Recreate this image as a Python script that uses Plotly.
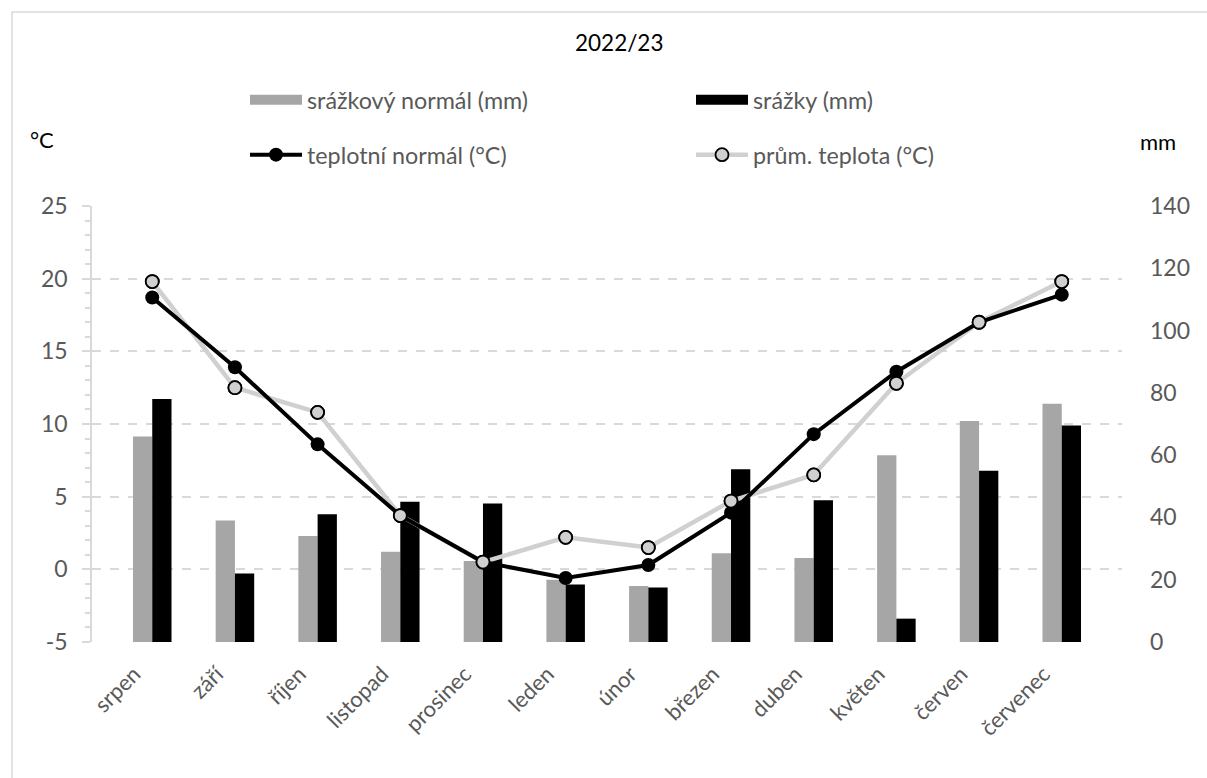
import plotly.graph_objects as go

months = ["srpen", "září", "říjen", "listopad", "prosinec", "leden", "únor",
          "březen", "duben", "květen", "červen", "červenec"]
precip_normal_mm = [66, 39, 34, 29, 26, 20, 18, 28.5, 27, 60, 71, 76.5]
precip_mm = [78, 22, 41, 45, 44.5, 18.5, 17.5, 55.5, 45.5, 7.5, 55, 69.5]
temp_normal_c = [18.7, 13.9, 8.6, 3.7, 0.5, -0.6, 0.3, 3.9, 9.3, 13.6, 17.0, 18.9]
temp_avg_c = [19.8, 12.5, 10.8, 3.7, 0.5, 2.2, 1.5, 4.7, 6.5, 12.8, 17.0, 19.8]

left_ticks = [-5, 0, 5, 10, 15, 20, 25]
left_ticktext = ["-5", "0", "5", "10", "15", "20", "25"]
right_ticks = [0, 20, 40, 60, 80, 100, 120, 140]
right_ticktext = ["0", "20", "40", "60", "80", "100", "120", "140"]

title_text = "2022/23"
left_unit = "°C"
right_unit = "mm"
names = ["srážkový normál (mm)", "srážky (mm)", "teplotní normál (°C)", "prům. teplota (°C)"]

FONT = "Lato, 'Liberation Sans', sans-serif"
GRAY_TXT = "#595959"
GRID = "#d9d9d9"

fig = go.Figure()

# bars on main (right) axis
fig.add_trace(go.Bar(x=months, y=precip_normal_mm, name=names[0], marker_color="#a6a6a6",
                     marker_line_width=0, yaxis="y", showlegend=False))
fig.add_trace(go.Bar(x=months, y=precip_mm, name=names[1], marker_color="#000000",
                     marker_line_width=0, yaxis="y", showlegend=False))

# legend-only entries for the bars (wide rectangles)
fig.add_trace(go.Scatter(x=[None], y=[None], mode="lines", name=names[0],
                         line=dict(color="#a6a6a6", width=14), legend="legend"))
fig.add_trace(go.Scatter(x=[None], y=[None], mode="lines", name=names[1],
                         line=dict(color="#000000", width=14), legend="legend"))

# lines on the left (temperature) axis
fig.add_trace(go.Scatter(x=months, y=temp_avg_c, name=names[3], mode="lines+markers",
                         yaxis="y2", legend="legend2", legendrank=2000,
                         line=dict(color="#d0d0d0", width=4.5),
                         marker=dict(size=13, color="#d0d0d0", line=dict(color="#000000", width=1.8))))
fig.add_trace(go.Scatter(x=months, y=temp_normal_c, name=names[2], mode="lines+markers",
                         yaxis="y2", legend="legend2", legendrank=1000,
                         line=dict(color="#000000", width=4),
                         marker=dict(size=14, color="#000000")))
fig.add_trace(go.Scatter(x=months, y=temp_avg_c, name=names[3], mode="markers",
                         yaxis="y2", showlegend=False,
                         marker=dict(size=13, color="#d0d0d0", line=dict(color="#000000", width=1.8))))

L, R, T, B = 92, 85, 206, 136
W, H = 1207, 778
pw, ph = W - L - R, H - T - B

def px(x):
    return (x - L) / pw

def py(y):
    return (H - B - y) / ph

legend_common = dict(orientation="h", xanchor="left", yanchor="middle",
                     entrywidth=379, entrywidthmode="pixels", bgcolor="rgba(0,0,0,0)",
                     itemwidth=52, traceorder="normal",
                     font=dict(size=23.3, color=GRAY_TXT, family=FONT))

fig.update_layout(
    width=W, height=H,
    margin=dict(l=L, r=R, t=T, b=B),
    paper_bgcolor="white", plot_bgcolor="white",
    font=dict(family=FONT, size=22, color=GRAY_TXT),
    barmode="group", bargap=0.534, bargroupgap=0,
    xaxis=dict(type="category", showgrid=False, showline=False, zeroline=False,
               tickangle=-45, ticks="", ticklabelstandoff=14, ticklabelshift=-18,
               tickfont=dict(size=22, color=GRAY_TXT)),
    yaxis=dict(side="right", range=[0, 140], tickvals=right_ticks, ticktext=right_ticktext,
               showgrid=False, showline=False, zeroline=False, ticks="",
               ticklabelstandoff=27, tickfont=dict(size=23, color=GRAY_TXT)),
    yaxis2=dict(overlaying="y", side="left", anchor="x", range=[-5, 25],
                tickvals=left_ticks, ticktext=left_ticktext,
                showgrid=True, gridcolor=GRID, griddash="dash", gridwidth=1.5,
                showline=True, linecolor=GRID, linewidth=1.5, zeroline=False,
                ticks="outside", ticklen=8, tickcolor=GRID, tickwidth=1.5,
                minor=dict(dtick=1, ticks="outside", ticklen=5, tickcolor=GRID, tickwidth=1.5, showgrid=False),
                ticklabelstandoff=10, tickfont=dict(size=23, color=GRAY_TXT)),
    legend=dict(x=px(245), y=py(100), **legend_common),
    legend2=dict(x=px(245), y=py(155), **legend_common),
    annotations=[
        dict(text=title_text, x=px(619), y=py(43), xref="paper", yref="paper", showarrow=False,
             xanchor="center", yanchor="middle",
             font=dict(size=22.5, color="#000000", family=FONT)),
        dict(text=left_unit, x=px(42), y=py(139), xref="paper", yref="paper", showarrow=False,
             xanchor="center", yanchor="middle",
             font=dict(size=22, color="#000000", family=FONT)),
        dict(text=right_unit, x=px(1158), y=py(141), xref="paper", yref="paper", showarrow=False,
             xanchor="center", yanchor="middle",
             font=dict(size=22, color="#000000", family=FONT)),
    ],
    shapes=[dict(type="rect", xref="paper", yref="paper", x0=px(12), x1=px(1230), y0=py(800), y1=py(12),
                 line=dict(color="#d9d9d9", width=1.5), fillcolor="rgba(0,0,0,0)", layer="below")],
)

fig.write_html("out.html", config={"displayModeBar": False},
               post_script="document.body.style.margin='0';")
